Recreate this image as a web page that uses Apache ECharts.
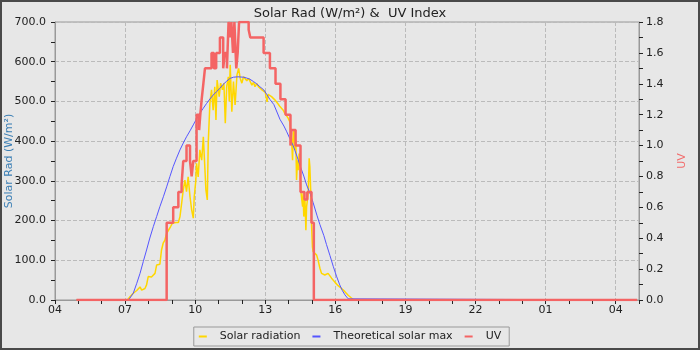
<!DOCTYPE html>
<html>
<head>
<meta charset="utf-8">
<title>Solar Rad & UV</title>
<script src="https://cdn.jsdelivr.net/npm/echarts@6/dist/echarts.min.js"></script>
<style>
    html, body { margin: 0; padding: 0; background: #e7e7e7; }
    #chart { width: 700px; height: 350px; }
    #frame { position: absolute; left: 0; top: 0; width: 700px; height: 350px; box-sizing: border-box; border: 2px solid #4a4a4a; pointer-events: none; }
</style>
</head>
<body>
<div id="chart"></div>
<div id="frame"></div>
<script>
// time is hour of day (values > 24 are next day)
var solarTimes = [4.92, 7.10, 7.14, 7.21, 7.35, 7.50, 7.57, 7.64, 7.71, 7.78, 7.85, 7.92, 7.99, 8.06, 8.13, 8.21, 8.28, 8.35, 8.42, 8.49,
    8.56, 8.63, 8.70, 8.78, 8.85, 8.89, 8.95, 9.02, 9.10, 9.18, 9.28, 9.35, 9.42, 9.49, 9.56, 9.63, 9.70, 9.78, 9.85, 9.92,
    9.96, 10.03, 10.06, 10.13, 10.20, 10.28, 10.35, 10.42, 10.46, 10.52, 10.56, 10.63, 10.70, 10.77, 10.84, 10.89, 10.94, 11.03, 11.09, 11.17,
    11.23, 11.29, 11.35, 11.42, 11.46, 11.50, 11.57, 11.64, 11.71, 11.79, 11.86, 11.93, 12.00, 12.07, 12.14, 12.21, 12.29, 12.36, 12.43, 12.50,
    12.56, 12.64, 12.71, 12.77, 12.86, 12.93, 13.00, 13.06, 13.08, 13.12, 13.20, 13.27, 13.34, 13.41, 13.48, 13.56, 13.63, 13.70, 13.77, 13.84,
    13.91, 13.98, 14.05, 14.10, 14.13, 14.17, 14.20, 14.24, 14.27, 14.31, 14.34, 14.38, 14.41, 14.45, 14.48, 14.52, 14.55, 14.60, 14.62, 14.65,
    14.70, 14.74, 14.77, 14.84, 14.88, 14.91, 14.95, 14.98, 15.02, 15.05, 15.12, 15.20, 15.26, 15.34, 15.41, 15.48, 15.55, 15.62, 15.69, 15.76,
    15.84, 15.91, 15.98, 16.05, 16.12, 16.19, 16.27, 16.34, 16.41, 16.48, 16.55, 16.62, 16.69, 16.76, 16.80, 28.92];
var solarRad = [0, 0, 2, 8, 17, 24, 29, 33, 25, 24, 29, 38, 59, 55, 58, 60, 67, 88, 90, 90,
    126, 143, 150, 168, 175, 180, 185, 193, 190, 195, 195, 210, 243, 277, 302, 273, 310, 260, 227, 206,
    260, 302, 344, 310, 378, 352, 411, 327, 277, 252, 395, 495, 529, 478, 537, 453, 554, 512, 546, 529,
    546, 445, 537, 562, 500, 592, 474, 550, 491, 567, 583, 558, 546, 562, 558, 552, 558, 554, 541, 548,
    537, 545, 537, 541, 529, 527, 523, 520, 499, 518, 520, 512, 508, 504, 499, 493, 487, 483, 478, 470,
    466, 458, 449, 452, 403, 352, 420, 428, 378, 403, 302, 352, 327, 369, 352, 277, 260, 235, 269, 210,
    252, 176, 235, 269, 357, 336, 269, 193, 134, 122, 118, 113, 101, 80, 67, 65, 63, 59, 67, 63,
    55, 50, 45, 40, 36, 33, 29, 25, 21, 17, 12, 8, 5, 2, 0, 0];

var maxTimes = [4.92, 7.15, 7.21, 7.35, 7.50, 7.64, 7.78, 7.92, 8.06, 8.21, 8.35, 8.49, 8.64, 8.78, 8.92, 9.06, 9.20, 9.35, 9.49, 9.63,
    9.78, 9.92, 10.06, 10.20, 10.35, 10.49, 10.63, 10.77, 10.92, 11.06, 11.20, 11.35, 11.49, 11.64, 11.83, 12.07, 12.20, 12.34, 12.50, 12.64,
    12.77, 12.94, 13.06, 13.20, 13.37, 13.63, 13.80, 13.91, 14.08, 14.20, 14.37, 14.48, 14.65, 14.77, 14.94, 15.05, 15.22, 15.34, 15.51, 15.62,
    15.77, 15.91, 16.05, 16.19, 16.30, 16.41, 16.55, 16.62, 28.92];
var solarMax = [0, 0, 2, 17, 42, 67, 97, 126, 156, 185, 210, 235, 260, 285, 311, 336, 357, 378, 395, 411,
    426, 441, 456, 470, 483, 495, 506, 516, 525, 533, 543, 551, 558, 561, 562, 561, 559, 556, 550, 544,
    537, 529, 518, 505, 492, 455, 438, 425, 403, 388, 360, 340, 312, 290, 265, 245, 212, 190, 162, 140,
    112, 85, 60, 38, 24, 13, 3, 0, 0];

// UV: each value starts at its time and holds until the next one
var uvTimes = [4.92, 8.78, 9.06, 9.28, 9.42, 9.49, 9.63, 9.78, 9.85, 9.92, 10.06, 10.17, 10.22, 10.28, 10.35, 10.42, 10.70, 10.80, 10.90, 11.06,
    11.20, 11.27, 11.36, 11.43, 11.50, 11.55, 11.62, 11.68, 11.76, 11.82, 11.88, 12.29, 12.36, 12.93, 13.20, 13.44, 13.65, 13.87, 14.08, 14.12,
    14.30, 14.51, 14.68, 14.80, 14.98, 15.08, 28.92];
var uvIndex = [0, 0.5, 0.6, 0.7, 0.75, 0.9, 1.0, 0.9, 0.8, 0.9, 1.2, 1.1, 1.2, 1.3, 1.4, 1.5, 1.6, 1.5, 1.6, 1.7,
    1.5, 1.6, 1.5, 1.8, 1.7, 1.8, 1.6, 1.8, 1.5, 1.6, 1.8, 1.75, 1.7, 1.6, 1.5, 1.4, 1.3, 1.2, 1.0, 1.1,
    1.0, 0.7, 0.65, 0.7, 0.5, 0, 0];

var startHour = 4;

function pairs(times, values){
    return times.map(function(t, i){
        return [t - startHour, values[i]];
    });
}

function pad(n){
    return (n < 10 ? '0' : '') + n;
}

window.onload = function(){
    var myChart = echarts.init(document.getElementById('chart'));
    var font = 'DejaVu Sans';

    var option = {
        animation: false,
        backgroundColor: '#e7e7e7',
        textStyle: { fontFamily: font },
        title: {
            text: 'Solar Rad (W/m²) &  UV Index',
            left: 'center',
            top: 2,
            textStyle: { fontFamily: font, fontSize: 13, fontWeight: 'normal', color: '#222' }
        },
        legend: {
            top: 327,
            left: 'center',
            padding: [4, 8, 4, 5],
            itemGap: 12,
            itemWidth: 8,
            itemHeight: 2,
            borderColor: '#999',
            borderWidth: 1,
            textStyle: { fontFamily: font, fontSize: 11, color: '#222', padding: [0, 0, 0, 8] },
            data: [
                { name: 'Solar radiation', icon: 'rect' },
                { name: 'Theoretical solar max', icon: 'rect' },
                { name: 'UV', icon: 'rect' }
            ]
        },
        grid: {
            left: 55,
            right: 61,
            top: 22,
            bottom: 50,
            outerBoundsMode: 'none',
            containLabel: false,
            show: true,
            borderColor: '#999',
            borderWidth: 1,
            backgroundColor: 'transparent'
        },
        xAxis: {
            type: 'value',
            min: 0,
            max: 25,
            interval: 3,
            axisLine: { lineStyle: { color: '#999' } },
            axisTick: { length: 4, lineStyle: { color: '#222' } },
            minorTick: { show: true, splitNumber: 3, length: 4, lineStyle: { color: '#222' } },
            splitLine: { show: true, lineStyle: { color: '#bbb', type: 'dashed' } },
            axisLabel: {
                margin: 5,
                fontSize: 11,
                color: '#222',
                formatter: function(v){
                    if (v % 3 !== 0) return '';
                    return pad((v + startHour) % 24);
                }
            }
        },
        yAxis: [
            {
                type: 'value',
                min: 0,
                max: 700,
                interval: 100,
                name: 'Solar Rad (W/m²)',
                nameLocation: 'middle',
                nameGap: 40,
                nameMoveOverlap: false,
                nameTextStyle: { color: '#3b7fb5', fontSize: 11, fontFamily: font },
                axisLine: { show: true, lineStyle: { color: '#999' } },
                axisTick: { show: true, length: 4, lineStyle: { color: '#222' } },
                minorTick: { show: true, splitNumber: 2, length: 4, lineStyle: { color: '#222' } },
                splitLine: { show: true, lineStyle: { color: '#bbb', type: 'dashed' } },
                axisLabel: {
                    margin: 9,
                    fontSize: 11,
                    color: '#222',
                    formatter: function(v){ return v.toFixed(1); }
                }
            },
            {
                type: 'value',
                min: 0,
                max: 1.8,
                interval: 0.2,
                position: 'right',
                name: 'UV',
                nameLocation: 'middle',
                nameGap: 38,
                nameMoveOverlap: false,
                nameTextStyle: { color: '#f26b6b', fontSize: 11, fontFamily: font },
                axisLine: { show: true, lineStyle: { color: '#999' } },
                axisTick: { show: true, length: 4, lineStyle: { color: '#222' } },
                minorTick: { show: true, splitNumber: 2, length: 4, lineStyle: { color: '#222' } },
                splitLine: { show: false },
                axisLabel: {
                    margin: 7,
                    fontSize: 11,
                    color: '#222',
                    formatter: function(v){ return v.toFixed(1); }
                }
            }
        ],
        series: [
            {
                name: 'Solar radiation',
                type: 'line',
                yAxisIndex: 0,
                showSymbol: false,
                color: '#ffd700',
                lineStyle: { width: 1.5, color: '#ffd700' },
                data: pairs(solarTimes, solarRad)
            },
            {
                name: 'Theoretical solar max',
                type: 'line',
                yAxisIndex: 0,
                showSymbol: false,
                color: '#5555ff',
                lineStyle: { width: 1, color: '#5555ff' },
                data: pairs(maxTimes, solarMax)
            },
            {
                name: 'UV',
                type: 'line',
                yAxisIndex: 1,
                step: 'end',
                showSymbol: false,
                color: '#f46464',
                lineStyle: { width: 2.5, color: '#f46464' },
                data: pairs(uvTimes, uvIndex)
            }
        ]
    };

    myChart.setOption(option);
}
</script>
</body>
</html>
